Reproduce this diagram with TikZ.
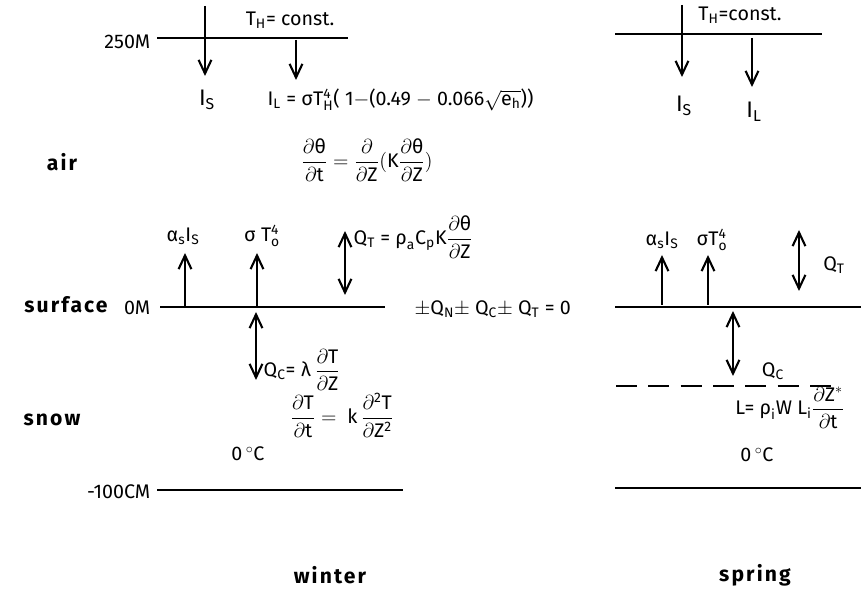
\documentclass[tikz,border=0pt]{standalone}
\usepackage{amsmath,amssymb}
\usepackage{mathspec}
\setmainfont{Fira Sans}
\setmathsfont(Digits,Latin,Greek)[Uppercase=Regular,Lowercase=Regular]{Fira Sans}
\setmathrm{Fira Sans}
\usetikzlibrary{arrows.meta}
\tikzset{
level/.style={
line width=1.8pt
},
flux/.style={
-{Straight Barb[length=3.4mm,width=3.2mm,line width=1.5pt]},
line width=1.8pt
},
dflux/.style={
{Straight Barb[length=3.4mm,width=3.2mm,line width=1.5pt]}-{Straight Barb[length=3.4mm,width=3.2mm,line width=1.5pt]},
line width=1.8pt
},
lbl/.style={
inner sep=1pt,
font=\fontsize{14}{16}\selectfont
},
zone/.style={
inner sep=1pt,
font=\fontsize{15}{17}\selectfont\bfseries\addfontfeature{LetterSpace=10}
}
}

\begin{document}
\begin{tikzpicture}[x=0.025cm,y=-0.025cm]
\useasboundingbox (0,0) rectangle (861,609);

% winter: upper boundary
\node[lbl,anchor=east](hw) at (152,42){250M};
\coordinate (hwa) at (157,38);
\coordinate (hwb) at (348,38);
\draw[level](hwa)--(hwb);
\node[lbl](thw) at (290,20){T$_\mathrm{H}$= const.};
\coordinate (isw0) at (205,6);
\coordinate (isw1) at (205,76);
\coordinate (ilw0) at (296,40);
\coordinate (ilw1) at (296,80);
\draw[flux](isw0)--(isw1);
\draw[flux](ilw0)--(ilw1);
\node[lbl,font=\fontsize{16}{18}\selectfont](isw) at (207,100){I$_\mathrm{S}$};
\node[lbl,anchor=west](ilw) at (266,100){I$_\mathrm{L}$ = $\sigma$T$_\mathrm{H}^4$( 1$-$(0.49 $-$ 0.066$\sqrt{e_h}$))};

% winter: air
\node[zone](air) at (62,162){air};
\node[lbl](aireq) at (367,160){$\dfrac{\partial\theta}{\partial t} = \dfrac{\partial}{\partial Z}(K\dfrac{\partial\theta}{\partial Z})$};

% winter: surface
\node[zone](surf) at (66,305){surface};
\node[lbl,anchor=east](zw) at (152,308){0M};
\coordinate (swa) at (160,307);
\coordinate (swb) at (385,307);
\draw[level](swa)--(swb);
\node[lbl](asw) at (183,236){$\alpha_s$I$_\mathrm{S}$};
\node[lbl](stw) at (262,236){$\sigma$ T$_\mathrm{o}^4$};
\coordinate (asw0) at (185,307);
\coordinate (asw1) at (185,253);
\coordinate (stw0) at (257,307);
\coordinate (stw1) at (257,253);
\draw[flux](asw0)--(asw1);
\draw[flux](stw0)--(stw1);
\coordinate (qtw0) at (345,231);
\coordinate (qtw1) at (345,295);
\draw[dflux](qtw0)--(qtw1);
\node[lbl,anchor=west](qtw) at (352,237){Q$_\mathrm{T}$ = $\rho_a$C$_\mathrm{p}$K$\dfrac{\partial\theta}{\partial Z}$};
\node[lbl,anchor=west](bal) at (413,309){$\pm$Q$_\mathrm{N}$$\pm$ Q$_\mathrm{C}$$\pm$ Q$_\mathrm{T}$ = 0};
\coordinate (qcw0) at (256,312);
\coordinate (qcw1) at (256,380);
\draw[dflux](qcw0)--(qcw1);
\node[lbl,anchor=west](qcw) at (262,370){Q$_\mathrm{C}$= $\lambda\,\dfrac{\partial T}{\partial Z}$};

% winter: snow
\node[zone](snow) at (52,420){snow};
\node[lbl](snoweq) at (342,415){$\dfrac{\partial T}{\partial t} =\ k\,\dfrac{\partial^2 T}{\partial Z^2}$};
\node[lbl](zcw) at (248,454){0\,$^\circ$C};
\node[lbl,anchor=east](bw) at (152,492){-100CM};
\coordinate (bwa) at (157,490);
\coordinate (bwb) at (403,490);
\draw[level](bwa)--(bwb);
\node[zone](winter) at (330,575){winter};

% spring: upper boundary
\coordinate (hsa) at (615,34);
\coordinate (hsb) at (822,34);
\draw[level](hsa)--(hsb);
\node[lbl](ths) at (740,15){T$_\mathrm{H}$=const.};
\coordinate (iss0) at (682,5);
\coordinate (iss1) at (682,77);
\coordinate (ils0) at (752,38);
\coordinate (ils1) at (752,87);
\draw[flux](iss0)--(iss1);
\draw[flux](ils0)--(ils1);
\node[lbl,font=\fontsize{16}{18}\selectfont](iss) at (684,106){I$_\mathrm{S}$};
\node[lbl,font=\fontsize{16}{18}\selectfont](ils) at (754,112){I$_\mathrm{L}$};

% spring: surface
\coordinate (ssa) at (615,307);
\coordinate (ssb) at (861,307);
\draw[level](ssa)--(ssb);
\node[lbl](ass) at (662,240){$\alpha_s$I$_\mathrm{S}$};
\node[lbl](sts) at (712,240){$\sigma$T$_\mathrm{o}^4$};
\coordinate (ass0) at (662,305);
\coordinate (ass1) at (662,255);
\coordinate (sts0) at (708,305);
\coordinate (sts1) at (708,255);
\draw[flux](ass0)--(ass1);
\draw[flux](sts0)--(sts1);
\coordinate (qts0) at (799,230);
\coordinate (qts1) at (799,291);
\draw[dflux](qts0)--(qts1);
\node[lbl](qts) at (834,265){Q$_\mathrm{T}$};
\coordinate (qcs0) at (733,311);
\coordinate (qcs1) at (733,376);
\draw[dflux](qcs0)--(qcs1);
\node[lbl](qcs) at (773,371){Q$_\mathrm{C}$};

% spring: melt front
\coordinate (msa) at (616,386);
\coordinate (msb) at (835,386);
\draw[level,dash pattern=on 15pt off 8pt](msa)--(msb);
\node[lbl](melt) at (790,408){L= $\rho_i$W L$_i\dfrac{\partial Z^*}{\partial t}$};
\node[lbl](zcs) at (757,455){0\,$^\circ$C};
\coordinate (bsa) at (615,488);
\coordinate (bsb) at (861,488);
\draw[level](bsa)--(bsb);
\node[zone](spring) at (755,575){spring};
\end{tikzpicture}
\end{document}
